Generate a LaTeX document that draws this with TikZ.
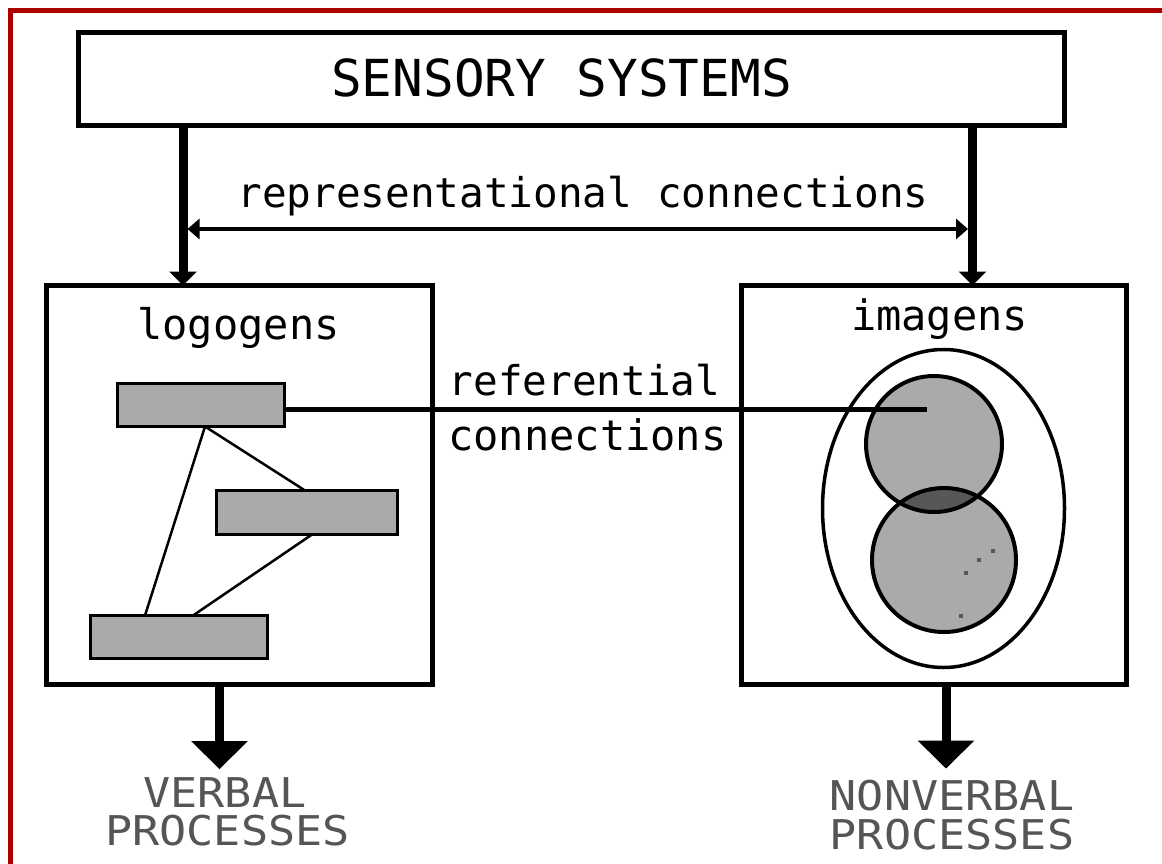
\documentclass[tikz,border=0pt]{standalone}
\usepackage{fontspec}
\setmonofont{DejaVu Sans Mono}
\newfontfamily\outfont[FakeStretch=1.1]{DejaVu Sans Mono}
\usetikzlibrary{arrows.meta}
\definecolor{framered}{RGB}{170,0,0}
\definecolor{boxgray}{RGB}{170,170,170}
\definecolor{lensgray}{RGB}{87,87,87}
\definecolor{txtgray}{RGB}{85,85,85}
\begin{document}
\begin{tikzpicture}[x=1pt,y=-1pt,
  bigbox/.style={draw,line width=5pt,inner sep=0pt,outer sep=0pt},
  wordbox/.style={draw,line width=3pt,fill=boxgray,inner sep=0pt,outer sep=0pt},
  assoc/.style={line width=2.5pt},
  shaft/.style={line width=9pt},
  inarrow/.style={shaft,-{Triangle[length=14pt,width=27pt]}},
  outarrow/.style={shaft,-{Triangle[length=28pt,width=55pt]}},
  lbl/.style={font=\ttfamily\fontsize{42}{42}\selectfont,inner sep=0pt,outer sep=0pt,anchor=base},
  outlbl/.style={font=\outfont\fontsize{41}{41}\selectfont,text=txtgray,inner sep=0pt,outer sep=0pt,anchor=base},
  outline/.style={line width=4pt},
]
\useasboundingbox (0,0) rectangle (1162,864);
\fill[white] (0,0) rectangle (1162,864);
% frame
\draw[framered,line width=5pt] (10.5,864) -- (10.5,10.5) -- (1162,10.5);

% boxes
\node[bigbox,minimum width=986pt,minimum height=93pt] (sensory) at (571.5,79) {};
\node[lbl,font=\ttfamily\fontsize{51}{51}\selectfont] (sensorytext) at (561.5,97) {SENSORY SYSTEMS};
\node[bigbox,minimum width=386pt,minimum height=399pt] (lbox) at (239.5,485) {};
\node[bigbox,minimum width=385pt,minimum height=399pt] (ibox) at (934,485) {};
\node[lbl] (logotext) at (238.5,339) {logogens};
\node[lbl] (imatext) at (939.5,330) {imagens};

% logogen word boxes
\node[wordbox,minimum width=167pt,minimum height=43pt] (w1) at (201,405) {};
\node[wordbox,minimum width=181pt,minimum height=44pt] (w2) at (307,512.5) {};
\node[wordbox,minimum width=177pt,minimum height=43pt] (w3) at (179,637) {};
\draw[assoc] ([xshift=4pt]w1.south) -- ([xshift=-34pt]w3.north);
\draw[assoc] ([xshift=4pt]w1.south) -- ([xshift=-2pt]w2.north);
\draw[assoc] ([xshift=5pt]w2.south) -- ([xshift=14pt]w3.north);

% imagens
\fill[boxgray] (934,444) circle[radius=68pt];
\fill[boxgray] (944,560) circle[radius=72pt];
\begin{scope}
  \clip (934,444) circle[radius=68pt];
  \fill[lensgray] (944,560) circle[radius=72pt];
\end{scope}
\draw[outline] (934,444) circle[radius=68pt];
\draw[outline] (944,560) circle[radius=72pt];
\draw[line width=3.5pt] (943.5,508.5) ellipse[x radius=121pt,y radius=159pt];
\fill[lensgray] (991,549) rectangle ++(4,4);
\fill[lensgray] (977,558) rectangle ++(4,4);
\fill[lensgray] (964,571) rectangle ++(4,4);
\fill[lensgray] (959,614) rectangle ++(4,4);

% referential connection
\coordinate (refend) at (927,409.5);
\draw[line width=4.5pt] ([yshift=-4.5pt]w1.east) -- (refend);
\node[lbl,font=\ttfamily\fontsize{41}{41}\selectfont] (reftext1) at (584.5,395) {referential};
\node[lbl] (reftext2) at (587.5,450) {connections};

% representational connections
\coordinate (lcol) at (183,0);
\coordinate (rcol) at (972.5,0);
\coordinate (repy) at (0,229);
\draw[inarrow] (sensory.south -| lcol) -- (lbox.north -| lcol);
\draw[inarrow] (sensory.south -| rcol) -- (ibox.north -| rcol);
\draw[line width=4pt,{Triangle[length=12pt,width=20pt]}-{Triangle[length=12pt,width=20pt]},shorten <=4.5pt,shorten >=4.5pt] (lcol |- repy) -- (rcol |- repy);
\node[lbl,font=\ttfamily\fontsize{41}{41}\selectfont] (reptext) at (583,207) {representational connections};

% outputs
\coordinate (lout) at (219.5,0);
\coordinate (rout) at (946,0);
\node[outlbl] (verbal1) at (225,807) {VERBAL};
\node[outlbl] (verbal2) at (227.5,845) {PROCESSES};
\node[outlbl] (nonverbal1) at (952,810) {NONVERBAL};
\node[outlbl] (nonverbal2) at (952,849) {PROCESSES};
\draw[outarrow,shorten >=8pt] (lbox.south -| lout) -- (verbal1.north -| lout);
\draw[outarrow,shorten >=11pt] (ibox.south -| rout) -- (nonverbal1.north -| rout);
\end{tikzpicture}
\end{document}
